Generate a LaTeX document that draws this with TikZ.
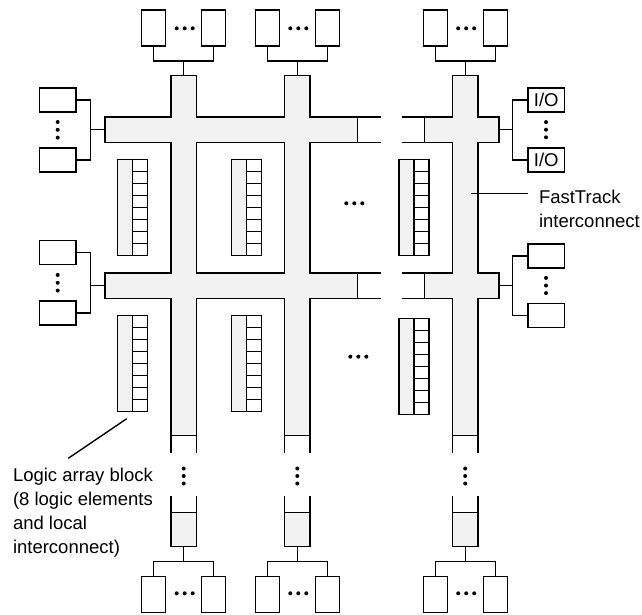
\documentclass[tikz,border=0pt]{standalone}
\usepackage{fontspec}
\setmainfont{Liberation Sans}
\usepackage{tikz}

\begin{document}
\begin{tikzpicture}[x=1pt,y=-1pt,line width=1.4pt,
  chanline/.style={line width=2.8pt},
  chanfill/.style={fill=black!5},
  vpin/.style={draw,minimum width=24pt,minimum height=36pt,inner sep=0pt,outer sep=0pt},
  hpin/.style={draw,minimum width=36.5pt,minimum height=24pt,inner sep=0pt,outer sep=0pt,font=\fontsize{18.5}{24}\selectfont},
  lab/.style={draw,minimum width=30pt,minimum height=96pt,inner sep=0pt,outer sep=0pt,anchor=north west},
  lbl/.style={font=\fontsize{18.5}{24}\selectfont,align=left,inner sep=0pt,anchor=north west}]
\useasboundingbox (0,0) rectangle (642,614);
% Channels: thick outline first, fill on top leaves the outer edge
\foreach \c in {183.7,297.3,465.2} {
  \draw[chanline] (\c-12,76) rectangle (\c+12,435);
  \draw[chanline] (\c-12,513.3) rectangle (\c+12,546);
}
\foreach \r in {129.7,285.5} {
  \draw[chanline] (105.7,\r-12) rectangle (356.7,\r+12);
  \draw[chanline] (425,\r-12) rectangle (498.3,\r+12);
}
\foreach \c in {183.7,297.3,465.2} {
  \fill[chanfill] (\c-12,76) rectangle (\c+12,435);
  \fill[chanfill] (\c-12,513.3) rectangle (\c+12,546);
}
\foreach \r in {129.7,285.5} {
  \fill[chanfill] (105.7,\r-12) rectangle (356.7,\r+12);
  \fill[chanfill] (425,\r-12) rectangle (498.3,\r+12);
}
% Open ends of the channels
\foreach \r in {129.7,285.5}
  \draw (356.7,\r-12.7) -- (381,\r-12.7) (356.7,\r+12.7) -- (381,\r+12.7)
        (402.3,\r-12.7) -- (425,\r-12.7) (402.3,\r+12.7) -- (425,\r+12.7);
\foreach \c in {183.7,297.3,465.2} {
  \draw (\c-12.7,435) -- (\c-12.7,452.7) (\c+12.7,435) -- (\c+12.7,452.7)
        (\c-12.7,495.7) -- (\c-12.7,513.3) (\c+12.7,495.7) -- (\c+12.7,513.3);
  \foreach \d in {-7.5,0,7.5} \fill (\c,476+\d) circle (2pt);
}
% Pins above and below each column
\foreach \i/\c in {1/183.7,2/297.3,3/465.2} {
  \node[vpin] (tl\i) at (\c-30,27.9) {};
  \node[vpin] (tr\i) at (\c+30,27.9) {};
  \coordinate (tj\i) at (\c,61);
  \coordinate (vt\i) at (\c,76);
  \draw (tl\i.south) |- (tj\i) -| (tr\i.south);
  \draw (tj\i) -- (vt\i);
  \node[vpin] (bl\i) at (\c-30,594.2) {};
  \node[vpin] (br\i) at (\c+30,594.2) {};
  \coordinate (bj\i) at (\c,561.3);
  \coordinate (vb\i) at (\c,546);
  \draw (bl\i.north) |- (bj\i) -| (br\i.north);
  \draw (bj\i) -- (vb\i);
  \foreach \d in {-7,1,9} {
    \fill (\c+\d,28.3) circle (2pt);
    \fill (\c+\d,593.3) circle (2pt);
  }
}
% Pins on the left of each row
\foreach \i/\r/\ya/\yb in {1/129.7/99.8/159.8,2/285.5/252.7/312.8} {
  \node[hpin] (la\i) at (57.7,\ya) {};
  \node[hpin] (lb\i) at (57.7,\yb) {};
  \coordinate (lj\i) at (90.7,\r);
  \coordinate (hl\i) at (105.7,\r);
  \draw (la\i.east) -| (lj\i) |- (lb\i.east);
  \draw (lj\i) -- (hl\i);
  \foreach \d in {-7.8,0,7.8} \fill (57.7,\ya/2+\yb/2+\d) circle (2pt);
}
% Pins on the right of each row
\node[hpin] (ra1) at (546.2,99.8) {I/O};
\node[hpin] (rb1) at (546.2,159.8) {I/O};
\node[hpin] (ra2) at (546.2,255.8) {};
\node[hpin] (rb2) at (546.2,315.7) {};
\foreach \i/\r in {1/129.7,2/285.5} {
  \coordinate (rj\i) at (512.7,\r);
  \coordinate (hr\i) at (498.3,\r);
  \draw (ra\i.west) -| (rj\i) |- (rb\i.west);
  \draw (rj\i) -- (hr\i);
  \foreach \d in {-7.6,0,7.6} \fill (546,\r+\d) circle (2pt);
}
% Logic array blocks
\foreach \n/\x/\y in {1/117.7/159.7,2/231.3/159.7,3/399/159.7,4/117.7/315.7,5/231.3/315.7,6/399/318.7} {
  \fill[chanfill] (\x,\y) rectangle ++(15,96);
  \node[lab] (lab\n) at (\x,\y) {};
  \draw (lab\n.north) -- (lab\n.south);
  \foreach \k in {1,...,7} \draw (\x+15,\y+12*\k) -- ++(15,0);
}
\foreach \d in {-8,0,8} {
  \fill (354.3+\d,203.3) circle (2pt);
  \fill (358.3+\d,356.7) circle (2pt);
}
% Labels
\coordinate (ftp) at (470.7,193.3);
\coordinate (ftq) at (528.3,193.3);
\draw (ftp) -- (ftq);
\node[lbl] (ft) at (538.3,189) {FastTrack\\interconnect};
\coordinate (labtip) at (68.3,458.3);
\draw ([xshift=-6pt,yshift=-7pt]lab4.south) -- (labtip);
\node[lbl] (labtxt) at (12.3,467.5) {Logic array block\\(8 logic elements\\and local\\interconnect)};
\end{tikzpicture}
\end{document}
